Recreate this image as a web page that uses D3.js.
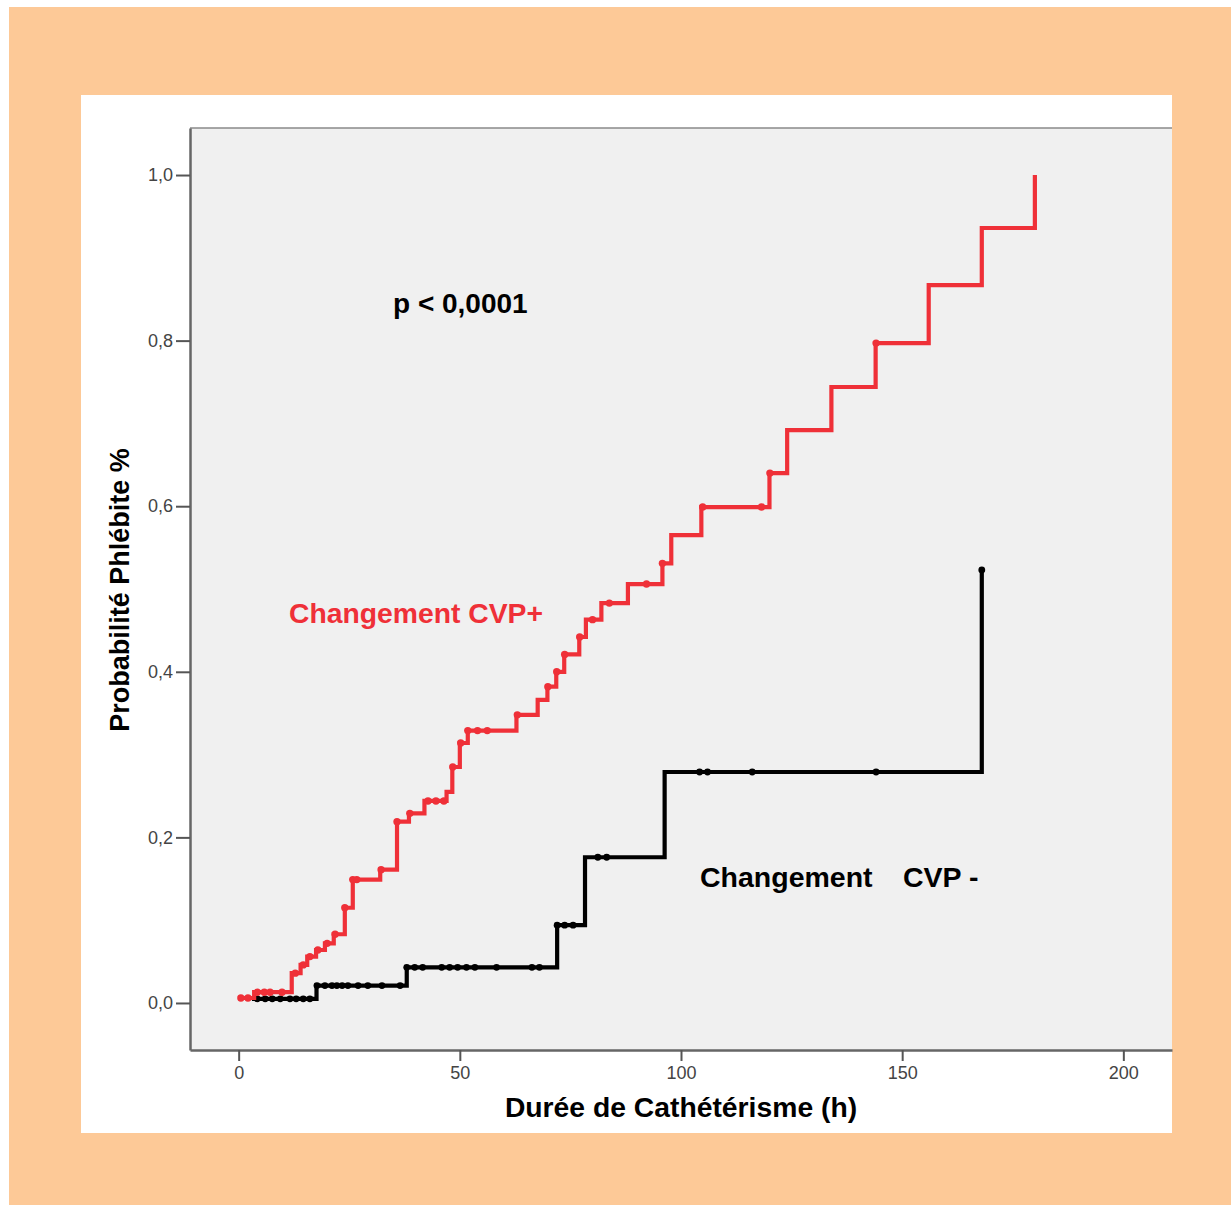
<!DOCTYPE html>
<html>
<head>
<meta charset="utf-8">
<script src="https://cdn.jsdelivr.net/npm/d3@7"></script>
<style>
  html, body { margin: 0; padding: 0; background: #ffffff; }
  svg { display: block; }
</style>
</head>
<body>
<svg id="chart" width="1231" height="1205"></svg>
<script>
// ---- Data ----
const xTicks = [0, 50, 100, 150, 200];
const yTicks = [0, 0.2, 0.4, 0.6, 0.8, 1.0];

// Changement CVP+ (red) : step times (h) and cumulative probability
const redTimes = [0.5, 3.5, 12, 14, 15.5, 17.5, 19.5, 21.5, 24, 25.8, 32, 35.8, 38.5, 42, 47, 48.3, 50, 51.8, 62.8, 67.6, 69.8, 71.8, 73.6, 77, 78.5, 82, 88, 95.8, 97.8, 104.6, 120, 124, 134, 144, 156, 168, 180];
const redProb  = [0.006, 0.013, 0.036, 0.046, 0.056, 0.064, 0.072, 0.083, 0.115, 0.149, 0.161, 0.219, 0.229, 0.244, 0.255, 0.285, 0.314, 0.329, 0.348, 0.366, 0.382, 0.400, 0.421, 0.442, 0.463, 0.483, 0.506, 0.531, 0.565, 0.599, 0.640, 0.692, 0.744, 0.797, 0.867, 0.936, 1.0];
const redCensor = [0.5, 2.1, 4.2, 5.8, 7.1, 9.8, 12.8, 14.6, 16.1, 17.9, 20, 21.8, 24, 25.8, 26.7, 32.2, 35.8, 38.7, 42.8, 44.6, 46.4, 48.4, 50.2, 51.8, 54, 56.2, 63, 69.9, 71.9, 73.7, 77.1, 80, 83.8, 92.2, 95.8, 104.9, 118.2, 120.1, 144.1];

// Changement CVP - (black)
const blackTimes = [3, 17.6, 38, 72, 78.3, 96.3, 168];
const blackProb  = [0.005, 0.021, 0.043, 0.094, 0.176, 0.279, 0.523];
const blackCensor = [4.2, 6, 7.6, 9.4, 11.6, 13, 14.6, 16.1, 17.7, 19.5, 21.1, 22.2, 23.4, 24.7, 27, 29.2, 32.4, 36.5, 38, 39.8, 41.6, 45.9, 47.7, 49.5, 51.5, 53.4, 58.3, 66.3, 68, 72, 73.7, 75.6, 81.2, 83.2, 104.2, 106, 116.1, 144.1, 168];

// ---- Layout ----
const svg = d3.select("#chart");
const plot = { left: 190, right: 1172, top: 128, bottom: 1050 };
const RED = "#ef3038";

svg.append("rect").attr("x", 9).attr("y", 7).attr("width", 1231 - 9).attr("height", 1205 - 7).attr("fill", "#fdc997");
svg.append("rect").attr("x", 81).attr("y", 95).attr("width", 1172 - 81).attr("height", 1133 - 95).attr("fill", "#ffffff");
svg.append("rect").attr("x", plot.left).attr("y", plot.top).attr("width", plot.right - plot.left).attr("height", plot.bottom - plot.top).attr("fill", "#f0f0f0");

const x = d3.scaleLinear().domain([-11, 211]).range([plot.left, plot.right]);
const y = d3.scaleLinear().domain([-0.0568, 1.0568]).range([plot.bottom, plot.top]);

// top border
svg.append("line").attr("x1", plot.left).attr("x2", plot.right).attr("y1", plot.top).attr("y2", plot.top)
  .attr("stroke", "#8a8a8a").attr("stroke-width", 1.5);

// axes
const fmtY = d => d3.format(".1f")(d).replace(".", ",");
const yAxis = svg.append("g").attr("transform", `translate(${plot.left},0)`)
  .call(d3.axisLeft(y).tickValues(yTicks).tickFormat(fmtY).tickSize(14).tickPadding(3).tickSizeOuter(0));
const xAxis = svg.append("g").attr("transform", `translate(0,${plot.bottom})`)
  .call(d3.axisBottom(x).tickValues(xTicks).tickFormat(d3.format("d")).tickSize(11).tickPadding(5).tickSizeOuter(0));

[yAxis, xAxis].forEach(g => {
  g.select(".domain").attr("stroke", "#666").attr("stroke-width", 2.5);
  g.selectAll(".tick line").attr("stroke", "#555").attr("stroke-width", 2);
  g.selectAll(".tick text").attr("fill", "#444").attr("font-family", "Liberation Sans, Arial, sans-serif").attr("font-size", 18);
});

// step curves
function stepLevel(times, probs, t) {
  let i = d3.bisectRight(times, t) - 1;
  if (i < 0) i = 0;
  return probs[i];
}
const line = d3.line().x(d => x(d[0])).y(d => y(d[1])).curve(d3.curveStepAfter);

function drawSeries(times, probs, censor, color, width, r) {
  const pts = times.map((t, i) => [t, probs[i]]);
  svg.append("path").datum(pts).attr("d", line).attr("fill", "none")
    .attr("stroke", color).attr("stroke-width", width).attr("stroke-linejoin", "miter");
  svg.append("g").selectAll("circle").data(censor).join("circle")
    .attr("cx", t => x(t)).attr("cy", t => y(stepLevel(times, probs, t)))
    .attr("r", r).attr("fill", color);
}
drawSeries(blackTimes, blackProb, blackCensor, "#000000", 4.2, 3.4);
drawSeries(redTimes, redProb, redCensor, RED, 4.2, 3.7);

// texts
const font = "Liberation Sans, Arial, sans-serif";
svg.append("text").attr("x", 393).attr("y", 313).attr("font-family", font).attr("font-weight", "bold")
  .attr("font-size", 28).attr("fill", "#000").text("p < 0,0001");
svg.append("text").attr("x", 289).attr("y", 623).attr("font-family", font).attr("font-weight", "bold")
  .attr("font-size", 28.3).attr("fill", RED).text("Changement CVP+");
svg.append("text").attr("x", 700).attr("y", 887).attr("font-family", font).attr("font-weight", "bold")
  .attr("font-size", 28.5).attr("fill", "#000").text("Changement");
svg.append("text").attr("x", 903).attr("y", 887).attr("font-family", font).attr("font-weight", "bold")
  .attr("font-size", 28.5).attr("fill", "#000").text("CVP -");
svg.append("text").attr("x", 681).attr("y", 1117).attr("text-anchor", "middle").attr("font-family", font)
  .attr("font-weight", "bold").attr("font-size", 28.3).attr("fill", "#000").text("Durée de Cathétérisme (h)");
svg.append("text").attr("transform", "translate(129,590) rotate(-90)").attr("text-anchor", "middle")
  .attr("font-family", font).attr("font-weight", "bold").attr("font-size", 27).attr("fill", "#000")
  .text("Probabilité Phlébite %");
</script>
</body>
</html>
